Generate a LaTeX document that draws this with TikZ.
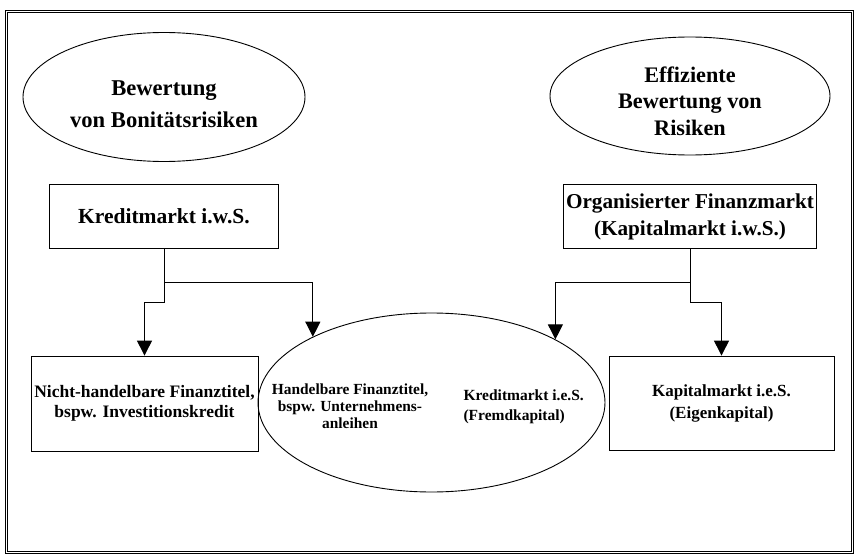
\documentclass[tikz,border=0pt]{standalone}
\usepackage{fontspec}
\setmainfont{Liberation Serif}
\usetikzlibrary{arrows.meta,positioning,shapes.geometric}

\begin{document}
\begin{tikzpicture}[
x=1pt, y=-1pt,
goal/.style={ellipse, draw, line width=0.9pt, inner sep=0pt},
goaltext/.style={align=center, font=\bfseries\fontsize{22.6}{31.7}\selectfont},
market/.style={rectangle, draw, line width=0.8pt, inner sep=2pt, align=center, minimum height=64pt, font=\bfseries\fontsize{21.5}{27}\selectfont},
title/.style={rectangle, draw, line width=0.8pt, align=center, minimum width=225pt, minimum height=95pt, font=\bfseries\fontsize{17.5}{20.5}\selectfont},
inner/.style={font=\bfseries\fontsize{15.4}{17}\selectfont},
link/.style={line width=1pt, -{Triangle[length=15pt,width=15pt]}},
]
\useasboundingbox (0,0) rectangle (855,554);
%Frame
\draw[double, double distance=1.6pt, line width=0.6pt] (6.5,11.5) rectangle (852.5,552.5);

%Nodes
\node[goal, minimum width=282pt, minimum height=129pt] (bon) at (164,97) {};
\node[goaltext] (bont) at ([yshift=-7pt]bon.center) {Bewertung\\von Bonitätsrisiken};
\node[goal, minimum width=280pt, minimum height=118pt] (eff) at (690,96) {};
\node[goaltext, font=\bfseries\fontsize{22.2}{26.5}\selectfont] (efft) at ([yshift=-5pt]eff.center) {Effiziente\\Bewertung von\\Risiken};
\node[market, minimum width=229pt] (kws) [below=22pt of bon] {Kreditmarkt i.w.S.};
\node[market, minimum width=253pt, font=\bfseries\fontsize{21.2}{27}\selectfont] (org) [below=29pt of eff] {Organisierter Finanzmarkt\\(Kapitalmarkt i.w.S.)};
\node[title] (nhf) at (144.5,403.5) {Nicht-handelbare Finanztitel,\\bspw. Investitionskredit};
\node[title, minimum height=94pt, font=\bfseries\fontsize{17}{22}\selectfont] (kes) at (721.5,403) {Kapitalmarkt i.e.S.\\(Eigenkapital)};
\node[goal, minimum width=347pt, minimum height=179pt] (htf) at (431.5,402.5) {};
\node[inner, align=center] (htfl) at (350,406) {Handelbare Finanztitel,\\bspw. Unternehmens-\\anleihen};
\node[inner, align=left, anchor=west, font=\bfseries\fontsize{15.5}{20}\selectfont] (kre) at (460,407) {Kreditmarkt i.e.S.\\(Fremdkapital)};

%Lines
\coordinate (lsplit) at (kws.south |- 0,282);
\coordinate (lstep)  at (kws.south |- 0,302);
\coordinate (rsplit) at (org.south |- 0,282);
\coordinate (rstep)  at (org.south |- 0,302);
\draw[link] (kws.south) -- (lstep) -| (nhf.north);
\draw[link] (lsplit) -| (htf.151);
\draw[link] (org.south) -- (rstep) -| (kes.north);
\draw[link] (rsplit) -| (htf.27.5);
\end{tikzpicture}
\end{document}
